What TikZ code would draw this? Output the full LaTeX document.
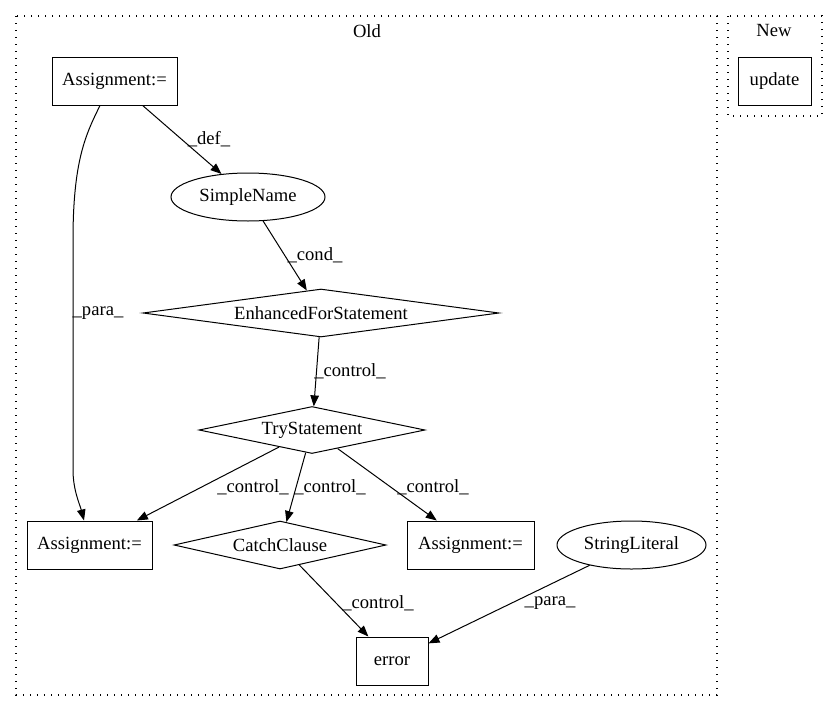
\documentclass[tikz,border=0pt]{standalone}
\usepackage{fontspec}
\setmainfont{Liberation Serif}
\usetikzlibrary{arrows.meta,shapes.geometric}
\begin{document}
\begin{tikzpicture}[x=1pt,y=-1pt,
  every node/.style={font=\fontsize{18.6}{21}\selectfont},
  box/.style={draw,line width=1pt,rectangle,inner sep=0pt},
  ell/.style={draw,line width=1pt,ellipse,inner sep=0pt},
  dia/.style={draw,line width=1pt,diamond,inner sep=0pt},
  lbl/.style={inner sep=0pt},
  cluster/.style={line width=1.5pt,dash pattern=on 1.4pt off 5.6pt},
  arr/.style={line width=1pt,-{Triangle[length=11pt,width=8.5pt]}}]
\useasboundingbox (0,0) rectangle (837,712);
% clusters
\draw[cluster] (16,16) rectangle (717,695);
\draw[cluster] (728,16) rectangle (822,116);
\node[lbl] (old) at (367,31) {Old};
\node[lbl] (new) at (774,31) {New};
% nodes
\node[box,minimum width=125pt,minimum height=48pt] (a1) at (114.5,81) {Assignment:=};
\node[ell,minimum width=154pt,minimum height=48pt] (sn) at (248,197) {SimpleName};
\node[dia,aspect=7.4,minimum width=356pt,minimum height=48pt] (efs) at (321,313) {EnhancedForStatement};
\node[dia,aspect=4.8,minimum width=226pt,minimum height=47pt] (try) at (312,430) {TryStatement};
\node[box,minimum width=125pt,minimum height=48pt] (bl) at (89.5,545) {Assignment:=};
\node[dia,aspect=4.4,minimum width=212pt,minimum height=48pt] (cc) at (280,545) {CatchClause};
\node[box,minimum width=127pt,minimum height=48pt] (br) at (470.5,545) {Assignment:=};
\node[ell,minimum width=149pt,minimum height=48pt] (sl) at (631.5,545) {StringLiteral};
\node[box,minimum width=72pt,minimum height=48pt] (err) at (392,661) {error};
\node[box,minimum width=73pt,minimum height=48pt] (upd) at (774.5,81) {update};
% connectors
\draw[arr] (a1) -- (sn);
\draw[arr] (sn) -- (efs);
\draw[arr] (efs) -- (try);
\draw[arr] (try) -- (bl);
\draw[arr] (try) -- (cc);
\draw[arr] (try) -- (br);
\draw[arr] (cc) -- (err);
\draw[arr] (sl) -- (err);
\coordinate (pa) at (73,240);
\coordinate (pb) at (73,470);
\draw[arr] ([xshift=-14.5pt]a1.south) .. controls (86,134) and (73,160) .. (pa) -- (pb) .. controls (73,490) and (80,505) .. ([xshift=-5.5pt]bl.north);
% labels
\node[lbl] (l1) at (209,139) {\_def\_};
\node[lbl] (l2) at (315,255) {\_cond\_};
\node[lbl] (l3) at (350,371) {\_control\_};
\node[lbl] (l4) at (98,313) {\_para\_};
\node[lbl] (l5) at (253,487) {\_control\_};
\node[lbl] (l6) at (330,487) {\_control\_};
\node[lbl] (l7) at (433,487) {\_control\_};
\node[lbl] (l8) at (378,603) {\_control\_};
\node[lbl] (l9) at (550,603) {\_para\_};
\end{tikzpicture}
\end{document}
